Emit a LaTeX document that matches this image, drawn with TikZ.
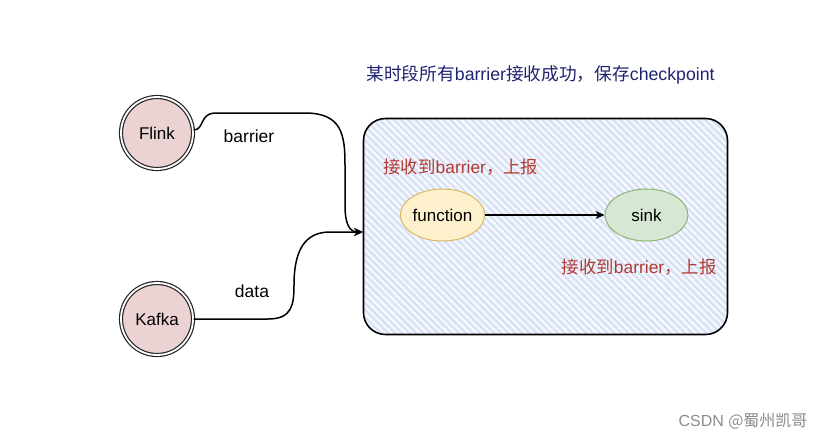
\documentclass[tikz,border=0pt]{standalone}
\usepackage{fontspec}
\setmainfont{Liberation Sans}
\newfontfamily\cjk{Noto Sans CJK SC}
\usetikzlibrary{arrows.meta,patterns.meta,shapes.geometric}
\definecolor{navy}{HTML}{1F2470}
\definecolor{redtxt}{HTML}{B23A32}
\definecolor{pinkfill}{HTML}{EBD3D3}
\definecolor{yelfill}{HTML}{FCF1CC}
\definecolor{yeldraw}{HTML}{D9B95F}
\definecolor{grnfill}{HTML}{D6E7D3}
\definecolor{grndraw}{HTML}{8DB673}
\definecolor{hatch}{HTML}{D6E1F6}
\definecolor{hatchbg}{HTML}{F6F8FD}
\tikzset{
  srcnode/.style={circle, minimum size=72pt, inner sep=0pt, fill=pinkfill,
    draw=black!85, line width=1.2pt, double=white, double distance=1.8pt,
    font=\fontsize{17}{20}\selectfont},
  opnode/.style={ellipse, minimum width=80pt, minimum height=52pt, inner sep=0pt,
    line width=1pt, font=\fontsize{17}{20}\selectfont},
  conn/.style={line width=1.5pt, -{Stealth[length=9pt,width=8pt]}},
  lbl/.style={font=\fontsize{17.5}{20}\selectfont},
  redlbl/.style={text=redtxt, font=\fontsize{17.4}{20}\selectfont},
}
\begin{document}
\begin{tikzpicture}[x=1pt,y=-1pt]
\useasboundingbox (0,0) rectangle (828,440);
\fill[white] (0,0) rectangle (828,440);

% container
\node[draw=black, line width=1.6pt, rounded corners=22pt,
  minimum width=364pt, minimum height=216pt, inner sep=0pt,
  preaction={fill=hatchbg},
  pattern={Lines[angle=-45,distance=5pt,line width=2.2pt]}, pattern color=hatch]
  (box) at (545.5,226.5) {};

% title
\node[text=navy, font=\fontsize{17.7}{21}\selectfont] (title) at (540.5,75)
  {{\cjk 某时段所有}barrier{\cjk 接收成功，保存}checkpoint};

% sources
\node[srcnode] (flink) at (157,133) {Flink};
\node[srcnode] (kafka) at (157,319) {Kafka};

% operators
\node[opnode, fill=yelfill, draw=yeldraw] (func) at (442.5,215) {function};
\node[opnode, fill=grnfill, draw=grndraw, minimum width=83pt] (sink) at (646.5,215) {sink};

\draw[line width=1.5pt, -{Stealth[length=9pt,width=8pt]}] (func) -- (sink);

% red labels
\node[redlbl, anchor=west] (r1) at (380,167) {{\cjk 接收到}barrier{\cjk ，上报}};
\node[redlbl, anchor=east] (r2) at (720,267) {{\cjk 接收到}barrier{\cjk ，上报}};

% connectors
\coordinate (entry) at (363,232);
\draw[conn] (flink.east) ++(0,-3) coordinate (fs)
  (fs) .. controls (204,130) and (200,114) .. (214,113)
  -- (305,113) .. controls (342,113) and (345,135) .. (345,165)
  -- (345,205) .. controls (345,225) and (350,232) .. (entry);
\draw[conn] (kafka.east) -- (268,319)
  .. controls (292,319) and (294,305) .. (294,285)
  .. controls (294,250) and (305,232) .. (330,232) -- (entry);

\node[lbl] (bl) at (249,136) {barrier};
\node[lbl] (dl) at (252,291) {data};

% watermark
\node[text=black!45, font=\fontsize{16}{18}\selectfont, anchor=east] (wm) at (811,421)
  {CSDN {\cjk @蜀州凯哥}};
\end{tikzpicture}
\end{document}
